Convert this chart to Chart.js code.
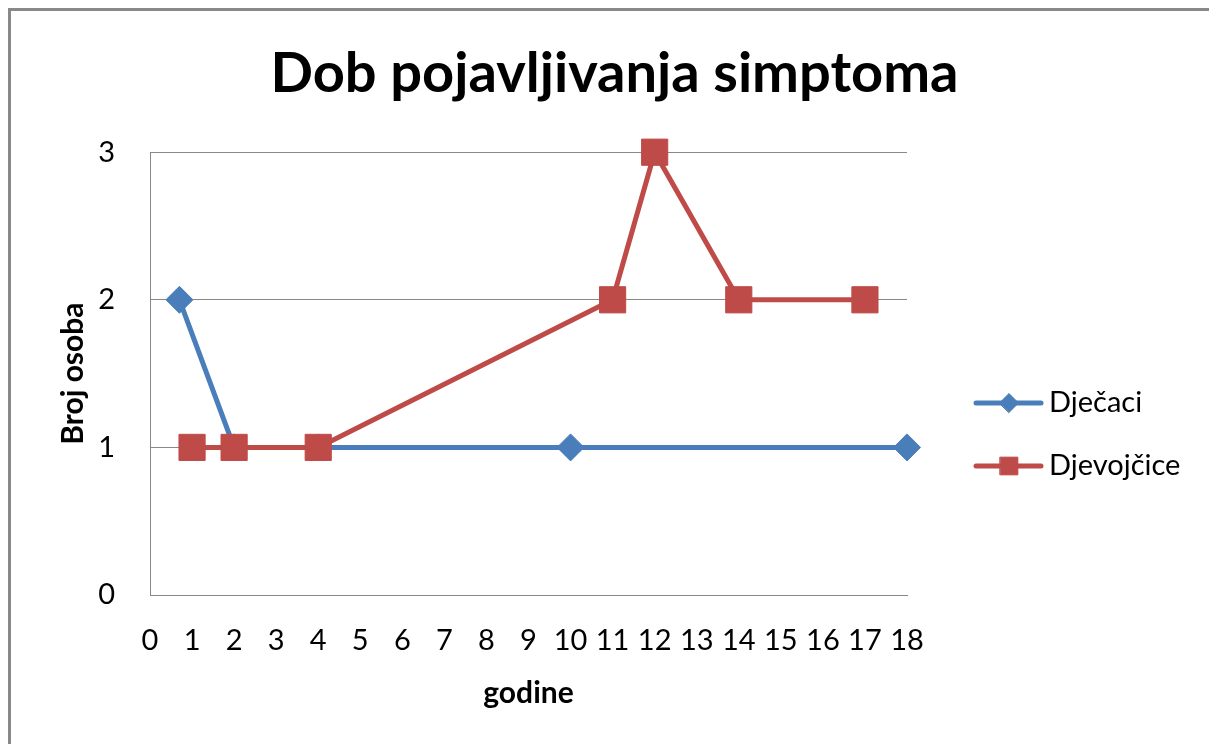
<!DOCTYPE html>
<html>
<head>
<meta charset="utf-8">
<script src="https://cdn.jsdelivr.net/npm/chart.js@4/dist/chart.umd.min.js"></script>
<style>
  body { margin: 0; background: #fff; }
  #wrap { width: 1209px; height: 744px; }
</style>
</head>
<body>
<div id="wrap"><canvas id="myChart" width="1209" height="744"></canvas></div>
<script>
// data
const seriesNames = ['Dječaci', 'Djevojčice'];
const boysAge = [0.7, 2, 4, 10, 18];
const boysCount = [2, 1, 1, 1, 1];
const girlsAge = [1, 2, 4, 11, 12, 14, 17];
const girlsCount = [1, 1, 1, 2, 3, 2, 2];
const xRange = [0, 18];
const yRange = [0, 3];

const blue = '#4A7EBB';
const red = '#BE4B48';
const gridGray = '#888888';
const font = 'Lato';

function toPoints(xs, ys) {
    return xs.map(function (x, i) { return {x: x, y: ys[i]}; });
}

// outer frame of the chart object
const framePlugin = {
    id: 'frame',
    beforeDraw: function (chart) {
        let c = chart.ctx;
        c.save();
        c.fillStyle = '#fff';
        c.fillRect(0, 0, chart.width, chart.height);
        c.strokeStyle = '#898989';
        c.lineWidth = 3;
        c.strokeRect(9.5, 9.5, chart.width + 50, chart.height + 50);
        c.restore();
    }
};

// legend drawn like the excel one: a line with the marker on it
const lineLegend = {
    id: 'lineLegend',
    afterDraw: function (chart) {
        let c = chart.ctx;
        let rows = [403, 466];
        chart.data.datasets.forEach(function (ds, i) {
            let y = rows[i];
            c.save();
            c.strokeStyle = ds.borderColor;
            c.lineWidth = 5;
            c.lineCap = 'round';
            c.beginPath();
            c.moveTo(976, y);
            c.lineTo(1041, y);
            c.stroke();
            c.fillStyle = ds.borderColor;
            c.strokeStyle = ds.borderColor;
            c.lineWidth = 1;
            Chart.helpers.drawPoint(c, {
                pointStyle: ds.pointStyle,
                radius: ds.pointStyle === 'rect' ? 12.5 : 9.5,
                borderWidth: 1
            }, 1009, y);
            c.fillStyle = '#000';
            c.font = '29px ' + font;
            c.textAlign = 'left';
            c.textBaseline = 'middle';
            c.fillText(ds.label, 1049, y);
            c.restore();
        });
    }
};

const myChart = new Chart(document.getElementById('myChart').getContext('2d'), {
    type: 'line',
    data: {
        datasets: [{
            label: seriesNames[0],
            data: toPoints(boysAge, boysCount),
            borderColor: blue,
            backgroundColor: blue,
            borderWidth: 5,
            pointStyle: 'rectRot',
            pointRadius: 13.5,
            pointBorderWidth: 1,
            pointBorderColor: blue,
            pointBackgroundColor: blue,
            tension: 0,
            clip: false,
            order: 1
        }, {
            label: seriesNames[1],
            data: toPoints(girlsAge, girlsCount),
            borderColor: red,
            backgroundColor: red,
            borderWidth: 5,
            pointStyle: 'rect',
            pointRadius: 18.5,
            pointBorderWidth: 1,
            pointBorderColor: red,
            pointBackgroundColor: red,
            tension: 0,
            clip: false,
            order: 0
        }]
    },
    options: {
        responsive: false,
        animation: false,
        devicePixelRatio: 1,
        layout: { padding: { left: 20, top: 0, right: 0, bottom: 0 } },
        plugins: {
            legend: { display: false },
            tooltip: { enabled: false },
            title: {
                display: true,
                text: 'Dob pojavljivanja simptoma',
                color: '#000',
                font: { family: font, size: 56, weight: 'bold' },
                padding: { top: 40, bottom: 45 }
            }
        },
        scales: {
            x: {
                type: 'linear',
                min: xRange[0],
                max: xRange[1],
                afterFit: function (scale) { scale.height = 149; },
                grid: { display: false, drawTicks: false },
                border: { display: true, color: gridGray, width: 1 },
                ticks: {
                    stepSize: 1,
                    padding: 28,
                    color: '#000',
                    font: { family: font, size: 29 }
                },
                title: {
                    display: true,
                    text: 'godine',
                    color: '#000',
                    font: { family: font, size: 30, weight: 'bold' },
                    padding: { top: 0, bottom: 33 }
                }
            },
            y: {
                min: yRange[0],
                max: yRange[1],
                afterFit: function (scale) { scale.width = 130; },
                grid: { color: gridGray, lineWidth: 1, drawTicks: false },
                border: { display: true, color: gridGray, width: 1 },
                ticks: {
                    stepSize: 1,
                    padding: 35,
                    color: '#000',
                    font: { family: font, size: 29 }
                },
                title: {
                    display: true,
                    text: 'Broj osoba',
                    color: '#000',
                    font: { family: font, size: 30, weight: 'bold' },
                    padding: { top: 35, bottom: 0 }
                }
            },
            // empty axis on the right keeps room for the legend
            side: {
                position: 'right',
                afterFit: function (scale) { scale.width = 302; },
                grid: { display: false, drawTicks: false },
                border: { display: false },
                ticks: { display: false }
            }
        }
    },
    plugins: [framePlugin, lineLegend]
});
</script>
</body>
</html>
